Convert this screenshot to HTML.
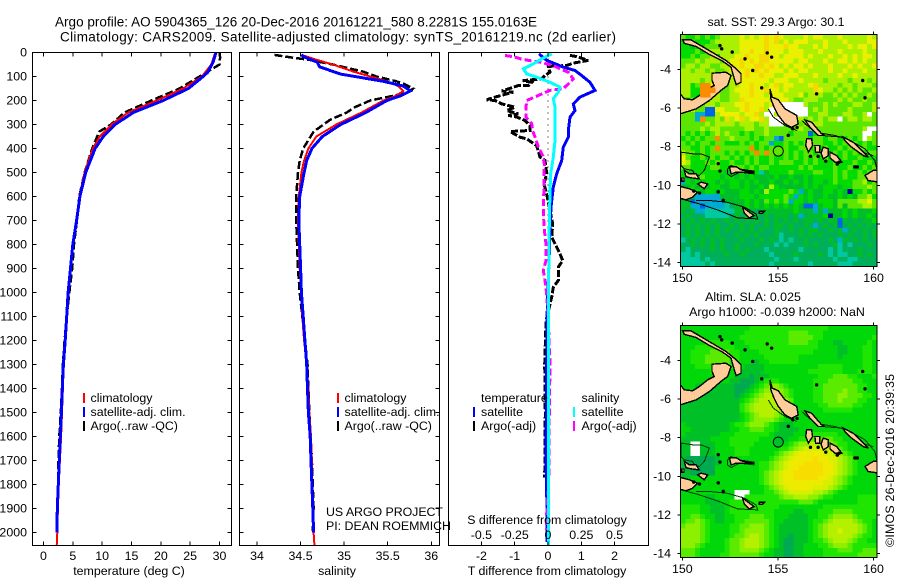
<!DOCTYPE html>
<html>
<head>
<meta charset="utf-8">
<title>Argo profile</title>
<style>
html,body{margin:0;padding:0;background:#fff;width:900px;height:580px;overflow:hidden}
svg{display:block}
text{font-family:"Liberation Sans",sans-serif;font-size:12.4px;fill:#000}
</style>
</head>
<body>
<svg id="fig" xmlns="http://www.w3.org/2000/svg" width="900" height="580" viewBox="0 0 900 580">
<text x="55" y="26.5" style="font-size:13.5px" textLength="482">Argo profile: AO 5904365_126 20-Dec-2016 20161221_580 8.2281S 155.0163E</text>
<text x="60" y="41.5" style="font-size:13.5px" textLength="556">Climatology: CARS2009. Satellite-adjusted climatology: synTS_20161219.nc (2d earlier)</text>
<text x="326" y="516" textLength="117">US ARGO PROJECT</text>
<text x="326" y="530" textLength="125">PI: DEAN ROEMMICH</text>
<text transform="translate(894,547) rotate(-90)" x="0" y="0" textLength="173">©IMOS 26-Dec-2016 20:39:35</text>
<g id="plots"></g>
</svg>
<script>
// ---- Profile data ----
const depthTicks = [0,100,200,300,400,500,600,700,800,900,1000,1100,1200,1300,1400,1500,1600,1700,1800,1900,2000];
const tempTicks = [0,5,10,15,20,25,30];
const salTicks = [34,34.5,35,35.5,36];
const salTickLabels = ['34','34.5','35','35.5','36'];
const diffTTicks = [-2,-1,0,1,2];
const diffTLabels = ['-2','-1','0','1','2'];
const diffSLabels = ['-0.5','-0.25','0','0.25','0.5'];

const tempClimDepth = [0,50,100,150,200,250,300,350,400,500,600,700,800,900,1000,1100,1200,1300,1400,1500,1600,1700,1800,1900,2000,2056];
const tempClim = [29.3,28.6,27,23.8,19.3,14.4,11.6,9.6,8.4,7,6.1,5.6,5,4.6,4.2,3.95,3.7,3.45,3.3,3.15,3,2.8,2.6,2.45,2.35,2.25];
const tempSatDepth = [0,40,82,100,150,200,250,300,350,400,500,600,700,800,900,1000,1100,1200,1300,1400,1500,1600,1700,1800,1900,2000];
const tempSat = [29.4,28.9,28,27.2,24.7,20.4,15.3,12.2,10.2,8.8,7.2,6.2,5.65,5,4.6,4.2,3.95,3.7,3.4,3.2,3.05,2.87,2.7,2.53,2.35,2.3];
const tempArgoDepth = [0,20,50,100,150,200,250,300,330,400,500,600,700,800,900,1000,1100,1200,1300,1400,1500,1600,1700,1800,1900,2000];
const tempArgo = [30,30.1,30,26.6,23.2,18.4,13.8,11.5,9.5,8.3,7,6.1,5.7,5.2,4.9,4.4,3.95,3.6,3.3,3.15,2.95,2.7,2.55,2.5,2.4,2.35];

const salClimDepth = [10,30,50,80,100,120,140,160,180,200,250,300,350,400,450,500,600,700,800,900,1000,1100,1200,1300,1400,1500,1600,1700,1800,1900,2000,2056];
const salClim = [34.51,34.68,34.87,35.11,35.3,35.49,35.62,35.68,35.6,35.45,35.2,34.91,34.68,34.59,34.54,34.51,34.48,34.47,34.48,34.49,34.51,34.52,34.54,34.57,34.59,34.6,34.62,34.63,34.63,34.64,34.65,34.66];
const salSatDepth = [10,20,40,60,90,120,140,160,180,200,250,300,350,400,450,500,600,700,800,900,1000,1100,1200,1300,1400,1500,1600,1700,1800,1900,2000];
const salSat = [34.51,34.55,34.69,34.72,34.96,35.45,35.68,35.76,35.65,35.49,35.25,34.96,34.75,34.63,34.57,34.54,34.49,34.48,34.49,34.5,34.51,34.53,34.55,34.57,34.58,34.59,34.61,34.62,34.63,34.64,34.65];
const salArgoDepth = [10,20,30,50,80,100,120,130,150,165,180,200,230,250,280,330,400,450,500,600,700,800,900,1000,1100,1300,1500,1700,1900,2000];
const salArgo = [34.2,34.38,34.59,34.87,35.22,35.37,35.6,35.68,35.79,35.74,35.57,35.3,35.11,35.03,34.84,34.65,34.53,34.49,34.47,34.45,34.45,34.46,34.47,34.49,34.52,34.58,34.6,34.63,34.65,34.64];

const diffTSatDepth = [6,33,61,75,96,124,158,186,214,242,269,325,353,394,450,505,561,644,728,839,950,1061,1300,1700,1900,2040];
const diffTSat = [-0.27,-0.04,0.46,0.81,1.01,1.26,1.41,0.96,0.76,0.81,0.66,0.61,0.61,0.46,0.41,0.26,0.16,0.09,0.06,0.04,0.01,-0.02,-0.04,-0.06,-0.03,-0.03];
const diffTArgoDepth = [12,17,33,44,54,58,82,96,110,117,124,138,138,147,161,165,186,197,200,214,221,228,242,256,262,269,283,304,325,329,353,360,388,436,450,505,547,603,658,714,769,811,839,867,894,950,978,1019,1061,1117,1300,1500,1770];
const diffTArgo = [0.66,0.86,1.21,0.76,0.56,0.01,0.06,-0.09,-0.19,-0.76,-0.49,-0.59,-0.89,-1.09,-1.39,-1.04,-1.59,-1.84,-1.59,-1.39,-1.19,-0.99,-1.24,-0.89,-1.19,-0.94,-0.69,-0.54,-0.54,-1.14,-0.84,-0.64,-0.34,-0.24,-0.09,-0.04,-0.12,-0.02,0.06,0.14,0.11,0.26,0.36,0.44,0.31,0.31,0.16,0.11,0.04,-0.06,-0.1,-0.08,-0.1];
const diffSSatDepth = [6,19,47,68,89,103,124,144,165,193,228,297,367,436,505,575,783,1117,2056];
const diffSSat = [0.0275,-0.0225,-0.11,-0.185,-0.16,-0.085,0.015,0.09,0.0775,0.04,0.0525,0.0525,0.0525,0.04,0.02,0.015,0.0075,0.0025,0.005];
const diffSArgoDepth = [12,19,26,33,40,54,68,82,110,131,151,158,179,200,228,269,297,325,353,394,429,464,561,644,728,797,867,908,950,1006,1117,1300,1500,1800,1920,1990];
const diffSArgo = [-0.3225,-0.2475,-0.21,-0.1475,-0.06,0.04,0.09,0.1525,0.19,0.1525,0.115,0.015,-0.0725,-0.16,-0.165,-0.165,-0.1225,-0.115,-0.0975,-0.0725,-0.04,-0.0275,-0.03,-0.035,-0.03,-0.015,-0.015,-0.035,-0.0225,-0.01,0.0025,0.015,0.01,0.005,-0.01,-0.01];

// ---- Map data: one character per 0.25 degree cell, north to south ----
const sstRows = [
"7667676788 8898989a9a 9888898998 8898888898",
"6676667888 8899999a9a 8989998889 8889888899",
"6656677788 8899999a99 9a99888989 8888989989",
"6667678888 8899a99a99 9899988898 8898888988",
"6676778688 899a99aa99 8999989888 9889898998",
"7778788878 99a9a9aa99 9998998889 8899898988",
"7887887788 99a99aa9a9 8989989888 9888989889",
"8878878778 999a9a9a99 9898998888 9889888988",
"8888888888 899a99a998 8999888988 8898898888",
"8888788777 8999999989 9988988887 8888788878",
"8867bb9877 8899a9989a 8998889a88 8878878887",
"8866bbb877 8999a99a99 8988888a98 8787878778",
"8866bb8877 8899a99899 9888978887 7878787787",
"7677878877 88a9999988 9987788877 7787877877",
"8677788788 899a999899 wwwww87778 7877788778",
"7787711998 889a99a8ww wwwwww7878 7777877778",
"7772211899 99899a8ww8 8wwwww7788 77788778w7",
"7772b77 87a 89a899a8ww w888878787 88w7887887",
"7777787888 87888788ww w778787887 7777777777",
"7777878877 7778877877 7777877777 77777778ww",
"7676767878 7767677877 7767771677 7777777ww7",
"6767677b77 8777676772 1777776776 7766767w87",
"7676776776 6676767726 6767677776 6767676767",
"7766767b77 7777b67676 6766776767 6676767766",
"8776767776 76767b7b76 6767677677 6767676677",
"9766767677 6767676676 6767676767 6667667666",
"9866676766 7667676676 7776676766 6766676676",
"7766667766 6776767766 6666767666 6766766767",
"6666666665 6566663566 6676666776 6767667676",
"6566766656 6565655556 5565565666 6767667767",
"2656566565 6656565565 5656565665 6766677867",
"5565656655 6656556586 5555565656 6656677787",
"5656566565 5566565866 6676256556 6565066767",
"6652222255 5566656666 6762656556 5565657786",
"5512222225 5556565767 6726656566 6577778897",
"5522122223 4556565656 5656511256 6575777887",
"5452233333 3554545555 5556555252 5556565556",
"4544433333 4545454545 5545245556 0556565565",
"5454545445 4545454545 4545455454 5515454556",
"4545454544 5454544545 5454454245 4514545454",
"4545454545 4454545445 4454545544 5452454545",
"4545454544 4545454445 3444545454 4454544545",
"3454545454 4454445454 3434454444 5425454544",
"4454545454 4544454443 4344454544 4534344454",
"4344445454 4545444344 4444344444 3434445444",
"3343444445 4454444434 4445444454 3433445454",
"3333434444 4444444443 4443444444 4344334444",
"3333343444 4444444434 4444443444 4433344444"
];
const slaRows = [
"2222222222 2222333333 3333333333 2222222222",
"2222222222 2223333333 3344443332 2222222222",
"2222222222 2233333333 3344444332 2222222223",
"2222233333 2223333333 3344443322 2112222232",
"2223333333 3222333333 3333333322 2211222332",
"2233334444 3322223333 3333333222 2211222332",
"2233344444 3322222333 3333222222 2212222332",
"2233344444 3322212233 3333222222 2222222332",
"2223333333 3221111222 2222222233 3332222332",
"2222223333 2211111222 2222223333 3332223332",
"2222222222 2111011122 2222222233 3444332223",
"2222222222 1100012333 2222222333 4444433222",
"2221111111 1000123455 4322222334 4444443322",
"2221111111 1001234555 5432222334 4445443322",
"2211111111 1012345666 5432222334 4455444332",
"1111111111 1123456666 5542222334 4454443322",
"1111111111 1134566666 5532222233 4444433222",
"1111111111 1134566666 5432222223 3333322222",
"1111111111 1123456665 4322222222 2222222222",
"1111111111 1123455554 3222222222 2222222222",
"2111111111 2334555432 1112222222 2222222222",
"2211111111 2233444332 1111222222 2222222222",
"2111111122 2333333321 1112222333 3322222222",
"1111112222 3333332221 1122334444 4332222222",
"11ww111222 3333322222 2234556666 5433222222",
"11ww111222 2333222222 3345677776 6543222222",
"11ww111222 2333222223 4567888887 7654322222",
"1000000122 2222222234 5678888988 7765432222",
"1000000122 2222223345 6788899998 8765432222",
"1000000222 2222223345 6788999998 8765432222",
"1100000222 2222223456 7889999998 8765432222",
"1122222222 2222223456 7889999988 7654322222",
"2222222222 2222223456 7888888887 7654322222",
"2222222222 2222222345 6788888777 6543222222",
"2222222222 2www222334 5677777665 4322222222",
"2222211222 2ww3333333 4556665543 3222223333",
"2222211122 3333333333 3333444322 2222223333",
"3333221112 3333333333 2222222223 3333333333",
"3333221112 3333333332 2221122233 3444433333",
"3344322112 2333444332 2211112233 4555543333",
"3445432112 2334444432 2111112334 5666654332",
"4555432222 3344555432 1111112345 6666665432",
"5555432222 3345555432 1111112345 6676665432",
"5555432222 3445665432 1101112345 6666654332",
"5555432223 4456665432 1001112334 5666543322",
"5554322223 4456665432 1001122233 4555433333",
"4443222223 4455554321 1001122223 3344433444",
"4443222233 4444443221 1001122223 3333334444"
];
const sstColors = {'0':'#000096','1':'#0064e6','2':'#00aad2','3':'#00c8a0','4':'#00af5a','5':'#00be28','6':'#00dc00','7':'#5ae600','8':'#aaf000','9':'#ebf000','a':'#f5d800','b':'#fa8c00','w':'#ffffff'};
const slaColors = {'0':'#00aa50','1':'#00c028','2':'#00d80a','3':'#1ee600','4':'#5aeb00','5':'#8cf000','6':'#b4f000','7':'#d8f000','8':'#eeeb00','9':'#f8de00','w':'#ffffff'};
const coastFilled = [
 [[150.02,-2.46],[150.45,-2.46],[151.41,-3.02],[152.28,-3.53],[152.72,-3.88],[153.07,-4.22],[153.07,-4.66],[152.81,-4.78],[152.64,-4.22],[152.55,-3.88],[152.11,-3.57],[151.41,-3.22],[150.72,-2.81],[150.1,-2.64]],
 [[149.88,-6.3],[150.72,-6.04],[151.41,-5.61],[152.02,-5.09],[152.37,-4.83],[152.55,-4.31],[152.28,-4.14],[151.55,-4.19],[151.55,-4.57],[151.67,-4.83],[151.33,-5],[150.89,-5.35],[150.54,-5.57],[150.1,-5.52],[149.93,-5.3],[149.8,-5.5]],
 [[154.58,-5],[154.7,-5.43],[155.02,-5.57],[155.37,-6.04],[155.98,-6.38],[156.06,-6.82],[155.71,-6.99],[155.37,-6.82],[155.02,-6.38],[154.76,-5.87],[154.63,-5.52]],
 [[156.41,-6.61],[156.76,-6.73],[157.28,-7.33],[157.46,-7.42],[157.11,-7.42],[156.67,-6.99]],
 [[158.41,-7.5],[158.94,-7.77],[159.72,-8.54],[159.46,-8.46],[158.85,-8.02],[158.5,-7.68]],
 [[156.5,-7.59],[156.76,-7.59],[156.81,-7.94],[156.59,-8.28],[156.45,-7.94]],
 [[156.93,-7.94],[157.19,-7.94],[157.19,-8.28],[156.97,-8.28]],
 [[157.37,-8.02],[157.63,-8.11],[157.63,-8.46],[157.37,-8.63],[157.25,-8.33]],
 [[157.72,-8.28],[158.07,-8.46],[158.33,-8.8],[157.98,-8.8],[157.72,-8.58]],
 [[159.55,-9.49],[159.98,-9.23],[160.3,-9.2],[160.3,-9.84],[159.72,-9.75]],
 [[149.7,-10.01],[150.37,-10.18],[150.8,-10.36],[150.54,-10.62],[150.19,-10.75],[149.7,-10.62]],
 [[150.11,-9.23],[150.37,-9.41],[150.72,-9.41],[150.89,-9.67],[150.45,-9.61],[150.19,-9.55]],
 [[150.98,-9.84],[151.33,-9.93],[151.15,-10.18],[150.8,-9.93]],
 [[149.7,-9.62],[150.09,-9.62],[150.09,-9.78],[149.7,-9.78]],
 [[152.46,-9.03],[152.81,-9.03],[153.07,-9.2],[153.77,-9.32],[153.15,-9.32],[152.81,-9.32],[152.55,-9.41]],
 [[153.15,-11.13],[153.5,-11.39],[153.76,-11.57],[153.5,-11.69],[153.24,-11.44]],
 [[154.03,-11.34],[154.29,-11.34],[154.2,-11.44],[154.03,-11.44]]
];
const coastLines = [
 [[154.49,-6.04],[154.76,-6.47],[155.37,-6.9],[155.98,-7.16]],
 [[156.24,-6.64],[156.93,-7.25],[157.98,-7.42],[158.59,-7.59],[159.55,-8.11],[160.07,-8.72],[160.16,-9.15]],
 [[156.41,-6.82],[157.28,-7.42],[158.33,-7.5],[159.37,-8.28],[159.98,-8.46]],
 [[149.93,-10.7],[150.89,-10.96],[151.94,-11.31],[152.89,-11.69],[153.94,-11.74],[153.85,-11.48],[153.24,-11.13],[152.37,-10.88],[151.41,-10.79],[150.72,-10.79]],
 [[152.37,-9.15],[152.55,-8.98],[152.98,-9.15],[153.76,-9.27],[153.76,-9.41],[152.98,-9.32],[152.55,-9.55],[152.37,-9.41],[152.37,-9.15]],
 [[149.93,-8.28],[150.54,-8.37],[150.98,-8.37],[151.41,-8.54],[151.15,-9.23],[150.89,-9.49],[150.63,-9.41],[150.54,-9.23],[150.11,-9.15],[149.93,-8.98],[149.93,-8.28]]
];
const smallIslands = [[151.97,-2.76],[152.06,-2.93],[152.61,-3.1],[153.28,-3.45],[153.68,-4.05],[154.15,-4.95],[155.54,-7.41],[155.77,-7.07],[159.02,-9.05],[159.15,-9.05],[151.88,-8.88],[151.97,-9.26],[151.88,-10.34],[152.14,-10.78],[154.67,-3.36],[159.43,-4.57],[159.55,-5.47],[157.02,-5.26],[154.44,-3.14],[156.7,-8.5],[157.1,-8.5],[157.5,-8.75],[158.1,-8.9],[158.2,-8.8],[156,-7],[149.93,-9.72],[150.6,-10.3],[150.9,-10.4]];
const lonTicks = [150,155,160];
const latTicks = [-4,-6,-8,-10,-12,-14];
const argoLon = 155.0163;
const argoLat = -8.2281;

// ---- Helpers ----
const NS = 'http://www.w3.org/2000/svg';
const root = document.getElementById('plots');
const PTOP = 52.5, PBOT = 545.5;
const yDepth = d => PTOP + d * 0.24;
const xTemp = t => 43.5 + t * 5.867;
const xSal = s => 257 + (s - 34) * 87.15;
const xDiffT = t => 548 + t * 33.3;
const xDiffS = s => 548 + s * 133.2;
function make(tag, attrs, parent) {
  const el = document.createElementNS(NS, tag);
  for (const k in attrs) el.setAttribute(k, attrs[k]);
  (parent || root).appendChild(el);
  return el;
}
function drawSeries(name, depths, vals, xf, color, width, dash) {
  const pts = depths.map((d, i) => xf(vals[i]).toFixed(1) + ',' + yDepth(d).toFixed(1)).join(' ');
  const el = make('polyline', {points: pts, fill: 'none', stroke: color, 'stroke-width': width, 'shape-rendering': 'crispEdges'});
  if (dash) el.setAttribute('stroke-dasharray', dash);
  
  
}
function tick(x1, y1, x2, y2) {
  const el = make('line', {x1, y1, x2, y2, stroke: '#000', 'stroke-width': 1, 'shape-rendering': 'crispEdges'});
  
  
}
function label(str, x, y, anchor, name) {
  const el = make('text', {x, y, 'text-anchor': anchor || 'middle'});
  el.textContent = str;
  
  
  return el;
}
function panelFrame(name, l, r) {
  const el = make('rect', {x: l, y: PTOP, width: r - l, height: PBOT - PTOP, fill: 'none', stroke: '#000', 'stroke-width': 1, 'shape-rendering': 'crispEdges'});
  
  
}
function depthAxisTicks(l, r) {
  depthTicks.forEach(d => {
    tick(l, yDepth(d), l + 4, yDepth(d));
    tick(r - 4, yDepth(d), r, yDepth(d));
  });
}
function valueTicks(vals, xf) {
  vals.forEach(v => {
    tick(xf(v), PTOP, xf(v), PTOP + 4);
    tick(xf(v), PBOT - 4, xf(v), PBOT);
  });
}
function legendEntry(swx, tx, yc, color, str, name) {
  const el = make('line', {x1: swx, x2: swx, y1: yc - 5, y2: yc + 5, stroke: color, 'stroke-width': 2, 'shape-rendering': 'crispEdges'});
  
  
  label(str, tx, yc + 4, 'start', name);
}

// ---- Temperature panel ----
drawSeries('temperature-argo', tempArgoDepth, tempArgo, xTemp, '#000', 2.5, '8 3');
drawSeries('temperature-climatology', tempClimDepth, tempClim, xTemp, '#ff0000', 2);
drawSeries('temperature-satellite', tempSatDepth, tempSat, xTemp, '#0000ff', 3);
panelFrame('temperature-panel', 32.5, 231.5);
depthAxisTicks(32.5, 231.5);
valueTicks(tempTicks, xTemp);
depthTicks.forEach(d => label(String(d), 27, yDepth(d) + 4, 'end', 'depth-tick-label'));
tempTicks.forEach(t => label(String(t), xTemp(t), 560, 'middle', 'temperature-tick-label'));
label('temperature (deg C)', 129, 575, 'middle', 'temperature-axis-title');
legendEntry(84, 90.5, 398, '#ff0000', 'climatology', 'legend-climatology');
legendEntry(84, 90.5, 412, '#0000ff', 'satellite-adj. clim.', 'legend-satellite-adj');
legendEntry(84, 90.5, 426, '#000', 'Argo(..raw -QC)', 'legend-argo');

// ---- Salinity panel ----
drawSeries('salinity-argo', salArgoDepth, salArgo, xSal, '#000', 2.5, '8 3');
drawSeries('salinity-climatology', salClimDepth, salClim, xSal, '#ff0000', 2);
drawSeries('salinity-satellite', salSatDepth, salSat, xSal, '#0000ff', 3);
panelFrame('salinity-panel', 239.5, 439.5);
depthAxisTicks(239.5, 439.5);
valueTicks(salTicks, xSal);
salTicks.forEach((s, i) => label(salTickLabels[i], xSal(s), 560, 'middle', 'salinity-tick-label'));
label('salinity', 337, 575, 'middle', 'salinity-axis-title');
legendEntry(338, 344.5, 398, '#ff0000', 'climatology', 'legend-climatology');
legendEntry(338, 344.5, 412, '#0000ff', 'satellite-adj. clim.', 'legend-satellite-adj');
legendEntry(338, 344.5, 426, '#000', 'Argo(..raw -QC)', 'legend-argo');

// ---- Difference panel ----
const zeroLine = make('line', {x1: xDiffT(0), x2: xDiffT(0), y1: PTOP, y2: PBOT, stroke: '#000', 'stroke-width': 1, 'stroke-dasharray': '1 5', 'shape-rendering': 'crispEdges'});


drawSeries('t-difference-argo', diffTArgoDepth, diffTArgo, xDiffT, '#000', 3, '7 2');
drawSeries('t-difference-satellite', diffTSatDepth, diffTSat, xDiffT, '#0000ff', 3);
drawSeries('s-difference-argo', diffSArgoDepth, diffSArgo, xDiffS, '#ff00ff', 3, '7 3');
drawSeries('s-difference-satellite', diffSSatDepth, diffSSat, xDiffS, '#00ffff', 3);
panelFrame('difference-panel', 448.5, 648.5);
valueTicks(diffTTicks, xDiffT);
diffTTicks.forEach((t, i) => {
  label(diffTLabels[i], xDiffT(t), 560, 'middle', 't-difference-tick-label');
  label(diffSLabels[i], xDiffT(t), 539, 'middle', 's-difference-tick-label');
});
label('S difference from climatology', 547, 524, 'middle', 's-difference-axis-title');
label('T difference from climatology', 547, 575, 'middle', 't-difference-axis-title');
label('temperature', 481, 402, 'start', 'legend-temperature-heading');
label('salinity', 581.5, 402, 'start', 'legend-salinity-heading');
legendEntry(474, 481, 412, '#0000ff', 'satellite', 'legend-t-satellite');
legendEntry(474, 481, 426, '#000', 'Argo(-adj)', 'legend-t-argo');
legendEntry(574, 581.5, 412, '#00ffff', 'satellite', 'legend-s-satellite');
legendEntry(574, 581.5, 426, '#ff00ff', 'Argo(-adj)', 'legend-s-argo');

// ---- Maps ----
function drawMap(name, top, bottom, rows, colors, lineColor, tickLabelY, circleFill, clipId) {
  const L = 680.5, R = 877;
  const lat4 = top + 35;
  const xLon = lon => 682.3 + (lon - 150) * 19.13;
  const yLat = lat => lat4 + (-4 - lat) * 19.3;
  const cw = (R - L) / 40, ch = (bottom - top) / 48;
  const g = make('g', {});
  
  
  const defs = make('clipPath', {id: clipId}, g);
  make('rect', {x: L, y: top, width: R - L, height: bottom - top}, defs);
  const inner = make('g', {'clip-path': 'url(#' + clipId + ')'}, g);
  const paint = (overLand) => rows.forEach((row, r) => {
    const cells = row.replace(/ /g, '');
    for (let c = 0; c < cells.length; c++) {
      const isOver = cells[c] === 'b';
      if (isOver !== overLand) continue;
      const cell = make('rect', {x: (L + c * cw).toFixed(2), y: (top + r * ch).toFixed(2), width: (cw + 0.4).toFixed(2), height: (ch + 0.4).toFixed(2), fill: colors[cells[c]], 'shape-rendering': 'crispEdges'}, inner);
      
      
    }
  });
  paint(false);
  coastLines.forEach(line => {
    const el = make('polyline', {points: line.map(p => xLon(p[0]).toFixed(1) + ',' + yLat(p[1]).toFixed(1)).join(' '), fill: 'none', stroke: lineColor, 'stroke-width': 1, 'shape-rendering': 'crispEdges'}, inner);
    
    
  });
  coastFilled.forEach(poly => {
    const el = make('polygon', {points: poly.map(p => xLon(p[0]).toFixed(1) + ',' + yLat(p[1]).toFixed(1)).join(' '), fill: '#ffcc99', stroke: '#000', 'stroke-width': 1.4, 'shape-rendering': 'crispEdges'}, inner);
    
    
  });
  smallIslands.forEach(p => {
    const el = make('circle', {cx: xLon(p[0]), cy: yLat(p[1]), r: 1.7, fill: '#000'}, inner);
    
    
  });
  paint(true);
  const marker = make('circle', {cx: xLon(argoLon), cy: yLat(argoLat), r: 5, fill: circleFill, stroke: '#000', 'stroke-width': 1}, g);
  
  
  const frame = make('rect', {x: L, y: top, width: R - L, height: bottom - top, fill: 'none', stroke: '#000', 'stroke-width': 1, 'shape-rendering': 'crispEdges'}, g);
  
  
  lonTicks.forEach(lon => {
    tick(xLon(lon), top - 3, xLon(lon), top);
    tick(xLon(lon), bottom, xLon(lon), bottom + 3);
    label(String(lon), xLon(lon), tickLabelY, 'middle', 'longitude-tick-label');
  });
  latTicks.forEach(lat => {
    tick(L - 3, yLat(lat), L, yLat(lat));
    tick(R, yLat(lat), R + 3, yLat(lat));
    label(String(lat), 671, yLat(lat) + 4, 'end', 'latitude-tick-label');
  });
}
drawMap('sst-map', 34.5, 266.5, sstRows, sstColors, '#000', 282, '#5ae600', 'clip-sst');
drawMap('sla-map', 325.5, 557.5, slaRows, slaColors, '#003c00', 573, '#00c028', 'clip-sla');
label('sat. SST: 29.3 Argo: 30.1', 776, 26, 'middle', 'sst-map-title');
label('Altim. SLA: 0.025', 753, 301, 'middle', 'sla-map-title');
label('Argo h1000: -0.039 h2000: NaN', 777, 316, 'middle', 'sla-map-subtitle');
</script>
</body>
</html>
